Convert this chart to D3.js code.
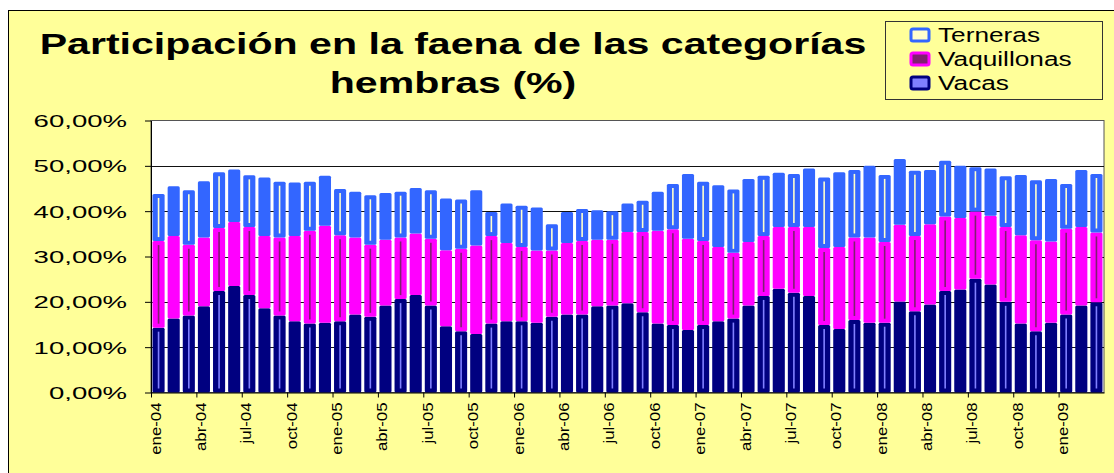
<!DOCTYPE html>
<html>
<head>
<meta charset="utf-8">
<script src="https://cdn.jsdelivr.net/npm/d3@7"></script>
<style>
    body { margin: 0; background: #fff; }
    text { font-family: 'Liberation Sans', Arial, sans-serif; }
</style>
</head>
<body>
<script>
// meses y años de la serie
const months = ['ene', 'feb', 'mar', 'abr', 'may', 'jun', 'jul', 'ago', 'sep', 'oct', 'nov', 'dic'];
const years = ['04', '05', '06', '07', '08', '09'];
const categories = [];
years.forEach(y => months.forEach(m => categories.push(m + '-' + y)));
categories.length = 63; // ene-04 ... mar-09

// participación (%) por categoría
const vacas = [
    14.3, 16.3, 17.0, 19.0, 22.4, 23.5, 21.5, 18.6, 17.0, 15.7, 15.2, 15.4,
    15.7, 17.2, 16.7, 19.2, 20.6, 21.5, 19.2, 14.6, 13.5, 12.9, 15.2, 15.7,
    15.7, 15.4, 16.7, 17.2, 17.2, 19.0, 19.2, 19.7, 17.7, 15.2, 14.9, 13.8,
    14.9, 15.7, 16.3, 19.2, 21.3, 22.9, 22.0, 21.3, 14.9, 14.0, 16.0, 15.4,
    15.4, 20.1, 17.9, 19.4, 22.4, 22.7, 25.1, 23.8, 20.0, 15.2, 13.5, 15.4,
    17.2, 19.2, 19.9
];
const vaquillonas = [
    19.1, 18.2, 15.6, 15.2, 13.9, 14.1, 15.0, 15.9, 17.2, 18.8, 20.5, 21.4,
    19.0, 17.0, 15.9, 14.5, 13.6, 13.6, 14.7, 16.8, 18.2, 19.5, 19.3, 17.3,
    16.4, 15.9, 14.6, 15.8, 16.2, 14.7, 14.5, 15.7, 17.7, 20.5, 21.1, 20.1,
    18.5, 16.4, 14.5, 14.0, 13.2, 13.6, 14.5, 15.2, 17.0, 18.1, 18.2, 18.8,
    17.8, 16.9, 16.6, 17.7, 16.4, 15.8, 14.8, 15.2, 16.5, 19.5, 20.1, 17.9,
    18.9, 17.3, 15.4
];
const terneras = [
    10.4, 11.0, 12.0, 12.4, 12.3, 11.6, 11.4, 12.9, 12.3, 11.8, 10.8, 11.0,
    10.2, 10.1, 10.9, 10.3, 10.1, 10.0, 10.7, 11.4, 10.9, 12.2, 5.3, 8.7,
    9.1, 9.5, 5.8, 6.8, 7.1, 6.5, 6.3, 6.3, 6.9, 8.6, 10.0, 14.3,
    13.1, 13.6, 14.0, 13.9, 13.3, 12.0, 11.7, 12.9, 15.5, 16.5, 14.9, 15.8,
    14.8, 14.5, 14.4, 12.0, 12.3, 11.5, 9.8, 10.4, 11.2, 13.3, 13.2, 13.8,
    9.9, 12.6, 12.9
];

const seriesNames = ['Vacas', 'Vaquillonas', 'Terneras'];
const seriesColors = ['#000080', '#ff00ff', '#3366ff'];
const innerColors = ['#8080ff', '#802070', '#ffffcc'];
const yTicks = [0, 10, 20, 30, 40, 50, 60];

// tamaño
const width = 1114;
const height = 473;
const plot = {left: 151, right: 1104, top: 120.5, bottom: 392.5};

const svg = d3.select('body')
    .append('svg')
    .attr('width', width)
    .attr('height', height);

// fondo del gráfico
svg.append('rect')
    .attr('x', 8.5)
    .attr('y', 10.5)
    .attr('width', 1110)
    .attr('height', 480)
    .attr('fill', '#ffff99')
    .attr('stroke', '#000');

// área de trazado
svg.append('rect')
    .attr('x', plot.left)
    .attr('y', plot.top)
    .attr('width', plot.right - plot.left)
    .attr('height', plot.bottom - plot.top)
    .attr('fill', '#fff')
    .attr('stroke', '#555');

const x = d3.scaleBand()
    .domain(categories)
    .range([plot.left, plot.right])
    .paddingInner(0.2)
    .paddingOuter(0.1);

const xEdge = d3.scaleLinear()
    .domain([0, categories.length])
    .range([plot.left, plot.right]);

const y = d3.scaleLinear()
    .domain([0, 60])
    .range([plot.bottom, plot.top]);

// líneas de división
svg.append('g')
    .selectAll('line')
    .data(yTicks.filter(d => d > 0 && d < 60))
    .enter()
    .append('line')
    .attr('x1', plot.left)
    .attr('x2', plot.right)
    .attr('y1', d => Math.round(y(d)) + 0.5)
    .attr('y2', d => Math.round(y(d)) + 0.5)
    .attr('stroke', '#111')
    .attr('stroke-width', 1);

// barras apiladas
const table = categories.map((c, i) => ({
    cat: c,
    idx: i,
    Vacas: vacas[i],
    Vaquillonas: vaquillonas[i],
    Terneras: terneras[i]
}));
const stack = d3.stack().keys(seriesNames)(table);

stack.forEach((layer, k) => {
    const g = svg.append('g');
    g.selectAll('rect')
        .data(layer)
        .enter()
        .append('rect')
        .attr('x', d => x(d.data.cat))
        .attr('y', d => y(d[1]))
        .attr('width', x.bandwidth())
        .attr('height', d => y(d[0]) - y(d[1]))
        .attr('rx', 1.5)
        .attr('fill', seriesColors[k]);
    // línea interior (efecto del borde de la serie)
    g.selectAll('line')
        .data(layer.filter(d => d.data.idx % 2 === 0))
        .enter()
        .append('line')
        .attr('x1', d => x(d.data.cat) + x.bandwidth() / 2)
        .attr('x2', d => x(d.data.cat) + x.bandwidth() / 2)
        .attr('y1', d => y(d[1]) + 4)
        .attr('y2', d => y(d[0]) - 4)
        .attr('stroke', innerColors[k])
        .attr('stroke-width', 1.6);
});

// eje y
const fmt = d3.formatLocale({decimal: ',', thousands: '.', grouping: [3], currency: ['', '']}).format('.2f');
const yAxis = svg.append('g')
    .attr('transform', `translate(${plot.left},0)`)
    .call(d3.axisLeft(y).tickValues(yTicks).tickSize(6).tickSizeOuter(0).tickFormat(d => fmt(d) + '%'));
yAxis.select('.domain').attr('stroke', '#000');
yAxis.selectAll('.tick line').attr('stroke', '#000');
yAxis.selectAll('.tick text')
    .attr('x', 0)
    .attr('dy', '0.36em')
    .attr('transform', 'translate(-24,0) scale(1.62,1)')
    .attr('font-size', 17)
    .attr('fill', '#000');

// eje x
const xAxis = svg.append('g')
    .attr('transform', `translate(0,${plot.bottom})`)
    .call(d3.axisBottom(xEdge)
        .tickValues(d3.range(0, categories.length, 3))
        .tickSize(5)
        .tickSizeOuter(0)
        .tickFormat(i => categories[i]));
xAxis.select('.domain').attr('stroke', '#000');
xAxis.selectAll('.tick line').attr('stroke', '#000');
xAxis.selectAll('.tick text')
    .attr('x', 0)
    .attr('y', 0)
    .attr('dy', '0.36em')
    .attr('text-anchor', 'end')
    .attr('transform', 'translate(4,10) rotate(-90) scale(1.2,1)')
    .attr('font-size', 14)
    .attr('fill', '#000');

// título
const titleLines = ['Participación en la faena de las categorías', 'hembras (%)'];
svg.append('g')
    .selectAll('text')
    .data(titleLines)
    .enter()
    .append('text')
    .attr('transform', (d, i) => `translate(453,${i ? 93 : 54}) scale(1.37,1)`)
    .attr('text-anchor', 'middle')
    .attr('font-size', 30)
    .attr('font-weight', 'bold')
    .attr('fill', '#000')
    .text(d => d);

// leyenda
const legend = svg.append('g');
legend.append('rect')
    .attr('x', 885.5)
    .attr('y', 21.5)
    .attr('width', 217)
    .attr('height', 78)
    .attr('fill', '#ffff99')
    .attr('stroke', '#333');
const legendOrder = [2, 1, 0];
const item = legend.selectAll('g.item')
    .data(legendOrder)
    .enter()
    .append('g')
    .attr('transform', (d, i) => `translate(0,${28 + i * 24})`);
item.append('rect')
    .attr('x', 911)
    .attr('y', 1)
    .attr('width', 18)
    .attr('height', 12)
    .attr('rx', 2)
    .attr('fill', d => innerColors[d])
    .attr('stroke', d => seriesColors[d])
    .attr('stroke-width', 3);
item.append('text')
    .attr('transform', 'translate(938,14) scale(1.28,1)')
    .attr('font-size', 20.5)
    .attr('fill', '#000')
    .text(d => seriesNames[d]);
</script>
</body>
</html>
